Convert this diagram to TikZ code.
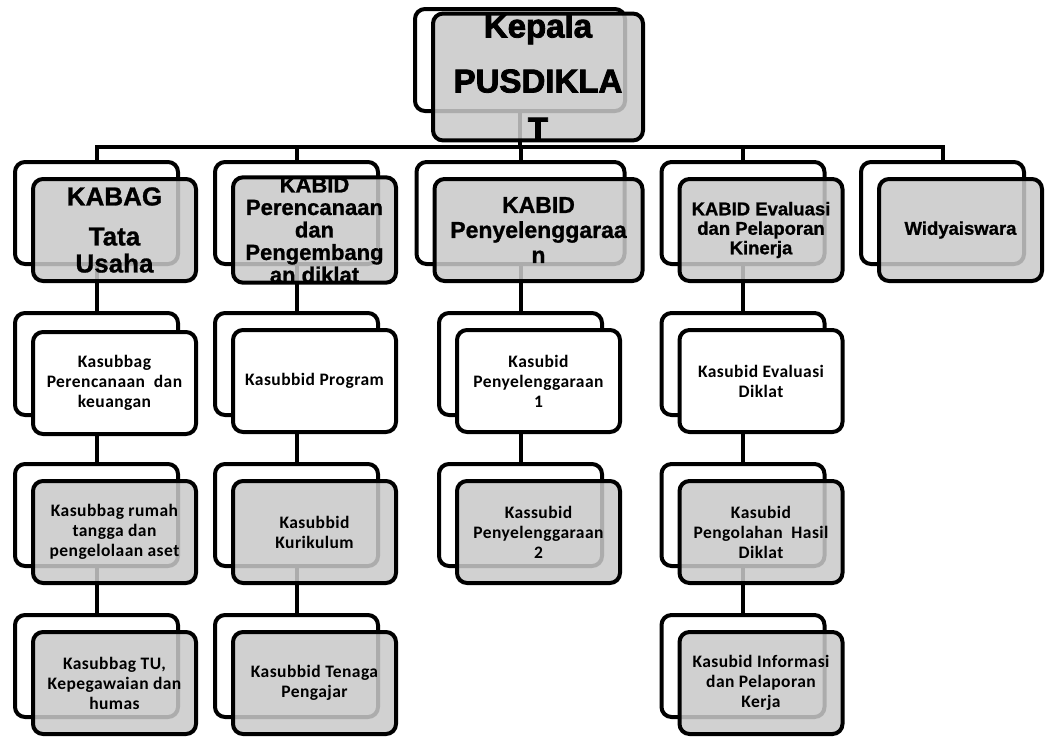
\documentclass[tikz,border=0pt]{standalone}
\usepackage{fontspec}
\setmainfont{Liberation Sans}[BoldFeatures={FakeBold=1}]
\newfontfamily\calibri{Carlito}[LetterSpace=2.5]
\newfontfamily\heavy{Liberation Sans Bold}[FakeBold=2.5]
\usetikzlibrary{positioning,backgrounds}

\begin{document}
\begin{tikzpicture}[
  x=1pt, y=-1pt,
  node distance=45pt,
  back/.style={draw, line width=4pt, rounded corners=10pt, fill=white, minimum width=163pt, minimum height=102pt, inner sep=0pt, outer sep=2pt},
  plain/.style={back, align=center, font=\calibri\bfseries\fontsize{17.5}{20}\selectfont},
  shaded/.style={plain, fill=black!21, fill opacity=0.86, text opacity=1},
  head/.style={shaded, font=\bfseries\fontsize{18.5}{19.5}\selectfont},
  conn/.style={line width=4pt}
]
  \useasboundingbox (0,0) rectangle (1045,737);

  % top
  \node[back, minimum width=210pt] (kepalab) at (520,60) {};
  \node[head, minimum width=210pt, font=\heavy\fontsize{33}{50}\selectfont] (kepala) at ([shift={(18pt,-17pt)}]kepalab.center) {Kepala\\[5pt]PUSDIKLA\\[-2pt]T};

  % heads
  \node[back] (kabagb) at (96.5,213) {};
  \node[head, font=\bfseries\fontsize{26}{27}\selectfont] (kabag) at ([shift={(18pt,-17pt)}]kabagb.center) {KABAG\\[13pt]Tata\\Usaha};
  \node[back] (renb) at (296.5,213) {};
  \node[head, font=\bfseries\fontsize{22}{22.5}\selectfont] (ren) at ([shift={(18pt,-17pt)}]renb.center) {KABID\\Perencanaan\\dan\\Pengembang\\an diklat};
  \node[back, minimum width=208pt] (selb) at (520.5,213) {};
  \node[head, minimum width=208pt, font=\bfseries\fontsize{23}{25}\selectfont] (sel) at ([shift={(18pt,-17pt)}]selb.center) {KABID\\Penyelenggaraa\\n};
  \node[back] (evab) at (743,213) {};
  \node[head] (eva) at ([shift={(18pt,-17pt)}]evab.center) {KABID Evaluasi\\dan Pelaporan\\Kinerja};
  \node[back] (widb) at (942.5,213) {};
  \node[head, font=\bfseries\fontsize{18.5}{20}\selectfont] (wid) at ([shift={(18pt,-17pt)}]widb.center) {Widyaiswara};

  % column 1
  \node[back, below=of kabagb] (pkb) {};
  \node[plain] (pk) at ([shift={(18pt,-19pt)}]pkb.center) {Kasubbag\\Perencanaan~ dan\\keuangan};
  \node[back, below=of pkb] (rtb) {};
  \node[shaded] (rt) at ([shift={(18pt,-17pt)}]rtb.center) {Kasubbag rumah\\tangga dan\\pengelolaan aset};
  \node[back, below=of rtb] (tub) {};
  \node[shaded] (tu) at ([shift={(18pt,-17pt)}]tub.center) {Kasubbag TU,\\Kepegawaian dan\\humas};

  % column 2
  \node[back, below=of renb] (prgb) {};
  \node[plain] (prg) at ([shift={(18pt,-17pt)}]prgb.center) {Kasubbid Program};
  \node[back, below=of prgb] (kurb) {};
  \node[shaded] (kur) at ([shift={(18pt,-17pt)}]kurb.center) {Kasubbid\\Kurikulum};
  \node[back, below=of kurb] (tenb) {};
  \node[shaded] (ten) at ([shift={(18pt,-17pt)}]tenb.center) {Kasubbid Tenaga\\Pengajar};

  % column 3
  \node[back, below=of selb] (sel1b) {};
  \node[plain] (sel1) at ([shift={(18pt,-17pt)}]sel1b.center) {Kasubid\\Penyelenggaraan\\1};
  \node[back, below=of sel1b] (sel2b) {};
  \node[shaded] (sel2) at ([shift={(18pt,-17pt)}]sel2b.center) {Kassubid\\Penyelenggaraan\\2};

  % column 4
  \node[back, below=of evab] (evdb) {};
  \node[plain] (evd) at ([shift={(18pt,-17pt)}]evdb.center) {Kasubid Evaluasi\\Diklat};
  \node[back, below=of evdb] (olhb) {};
  \node[shaded] (olh) at ([shift={(18pt,-17pt)}]olhb.center) {Kasubid\\Pengolahan~ Hasil\\Diklat};
  \node[back, below=of olhb] (infb) {};
  \node[shaded] (inf) at ([shift={(18pt,-17pt)}]infb.center) {Kasubid Informasi\\dan Pelaporan\\Kerja};

  \begin{scope}[on background layer]
    \foreach \n in {kabagb, renb, selb, evab, widb}
      \draw[conn] (kepalab.south) -- ++(0,34) -| (\n.north);
    \draw[conn] (kabagb) -- (pkb) -- (rtb) -- (tub);
    \draw[conn] (renb) -- (prgb) -- (kurb) -- (tenb);
    \draw[conn] (selb) -- (sel1b) -- (sel2b);
    \draw[conn] (evab) -- (evdb) -- (olhb) -- (infb);
  \end{scope}
\end{tikzpicture}
\end{document}
